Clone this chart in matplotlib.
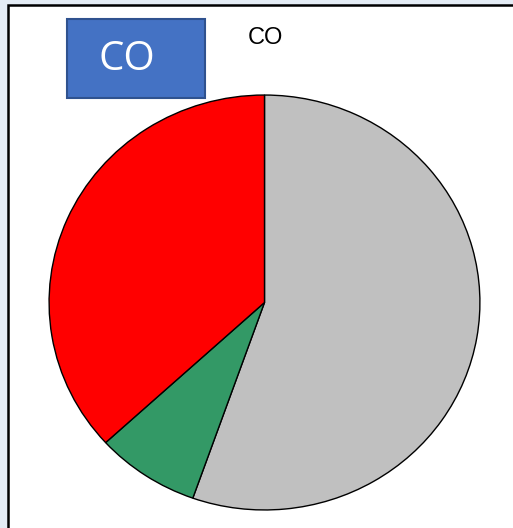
import matplotlib
matplotlib.use("Agg")
import matplotlib.pyplot as plt
from matplotlib.patches import Rectangle

# slice shares, clockwise from 12 o'clock
labels = ["gray", "green", "red"]
values = [55.4, 7.8, 36.8]
colors = ["#C0C0C0", "#339966", "#FF0000"]

title = "CO"
badge = "CO"

W, H = 513, 528
fig = plt.figure(figsize=(W / 100, H / 100), dpi=100)
fig.patch.set_facecolor("#e4ecf5")

# white panel with black frame, running off the right and bottom edges
fig.patches.append(Rectangle((8 / W, -0.05), 1.1, 1 - 5 / H + 0.05,
                             transform=fig.transFigure, facecolor="white",
                             edgecolor="black", linewidth=1.8, zorder=-1))

ax = fig.add_axes([48 / W, 17 / H, 433 / W, 417 / H], zorder=1)
ax.pie(values, colors=colors, startangle=90, counterclock=False,
       wedgeprops=dict(edgecolor="black", linewidth=1.0))
ax.set_aspect("auto")
ax.set_xlim(-1.005, 1.005)
ax.set_ylim(-1.005, 1.005)
ax.axis("off")

fig.text(265 / W, 1 - 38 / H, title, ha="center", va="center",
         fontsize=17, family="Liberation Sans", color="black", zorder=3)

# blue badge top-left
fig.patches.append(Rectangle((67 / W, 1 - 98 / H), 138 / W, 79 / H,
                             transform=fig.transFigure, facecolor="#4472C4",
                             edgecolor="#2F528F", linewidth=1.5, zorder=2))
fig.text(127 / W, 1 - 60 / H, badge, ha="center", va="center",
         fontsize=29, family="Open Sans", color="white", zorder=3)

fig.savefig("out.png", dpi=100, facecolor=fig.get_facecolor())
